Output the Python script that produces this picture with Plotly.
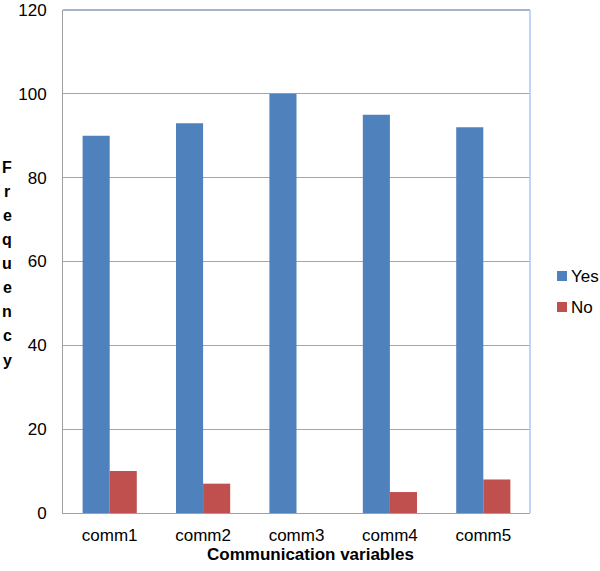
import plotly.graph_objects as go

categories = ["comm1", "comm2", "comm3", "comm4", "comm5"]
yes_values = [90, 93, 100, 95, 92]
no_values = [10, 7, 0, 5, 8]
y_ticks = [0, 20, 40, 60, 80, 100, 120]
series_names = ["Yes", "No"]
series_colors = ["#4F81BD", "#C0504D"]
y_title = "Frequency"
x_title = "Communication variables"

W, H = 600, 571
ml, mr, mt, mb = 63, 70, 10, 58

fig = go.Figure()
for name, vals, col in zip(series_names, [yes_values, no_values], series_colors):
    fig.add_trace(go.Bar(x=categories, y=vals, name=name,
                         marker=dict(color=col, line=dict(width=0))))

font_family = "Liberation Sans, Arial, Helvetica, sans-serif"

fig.update_layout(
    width=W, height=H,
    margin=dict(l=ml, r=mr, t=mt, b=mb, pad=0, autoexpand=False),
    paper_bgcolor="white", plot_bgcolor="white",
    barmode="group", bargap=0.42, bargroupgap=0,
    font=dict(family=font_family, size=17, color="black"),
    showlegend=False,
    xaxis=dict(showgrid=False, showline=True, linecolor="#A0A0A0", linewidth=1,
               ticks="", tickfont=dict(size=17), ticklabelstandoff=7, automargin=False),
    yaxis=dict(range=[0, 120], tickvals=y_ticks, showgrid=True, gridcolor="#A6A6A6",
               gridwidth=1, showline=True, linecolor="#A0A0A0", linewidth=1,
               ticks="", tickfont=dict(size=17), zeroline=False, ticklabelstandoff=12,
               automargin=False),
)

# top and right borders of the plot area
fig.add_shape(type="line", xref="paper", yref="paper", x0=0, x1=1, y0=1, y1=1,
              line=dict(color="#8A9BB4", width=1.5))
fig.add_shape(type="line", xref="paper", yref="paper", x0=1, x1=1, y0=0, y1=1,
              line=dict(color="#A8C8EC", width=1.5))

plot_w = W - ml - mr
plot_h = H - mt - mb

def px_x(x):
    return (x - ml) / plot_w

def px_y(y):
    return (H - mb - y) / plot_h

# manual legend
legend_rows = [276, 307]
for name, col, ypx in zip(series_names, series_colors, legend_rows):
    fig.add_shape(type="rect", xref="paper", yref="paper",
                  x0=px_x(557), x1=px_x(567), y0=px_y(ypx + 5), y1=px_y(ypx - 5),
                  fillcolor=col, line=dict(width=0))
    fig.add_annotation(text=name, xref="paper", yref="paper",
                       x=px_x(569), y=px_y(ypx), xanchor="left", yanchor="middle",
                       showarrow=False, font=dict(size=17))

# x-axis title
fig.add_annotation(text="<b>" + x_title + "</b>", xref="paper", yref="paper",
                   x=px_x(310), y=px_y(554),
                   yanchor="middle", xanchor="center", showarrow=False,
                   font=dict(size=17))

# stacked vertical y-axis title
n = len(y_title)
top_px, bot_px = 167, 360
for i, ch in enumerate(y_title):
    ypx = top_px + (bot_px - top_px) * i / (n - 1)
    fig.add_annotation(text="<b>" + ch + "</b>", xref="paper", yref="paper",
                       x=px_x(7), y=px_y(ypx),
                       xanchor="center", yanchor="middle", showarrow=False,
                       font=dict(size=16))

fig.write_html(
    "out.html",
    config={"displayModeBar": False},
    post_script="document.body.style.margin='0';document.body.style.overflow='hidden';",
)
